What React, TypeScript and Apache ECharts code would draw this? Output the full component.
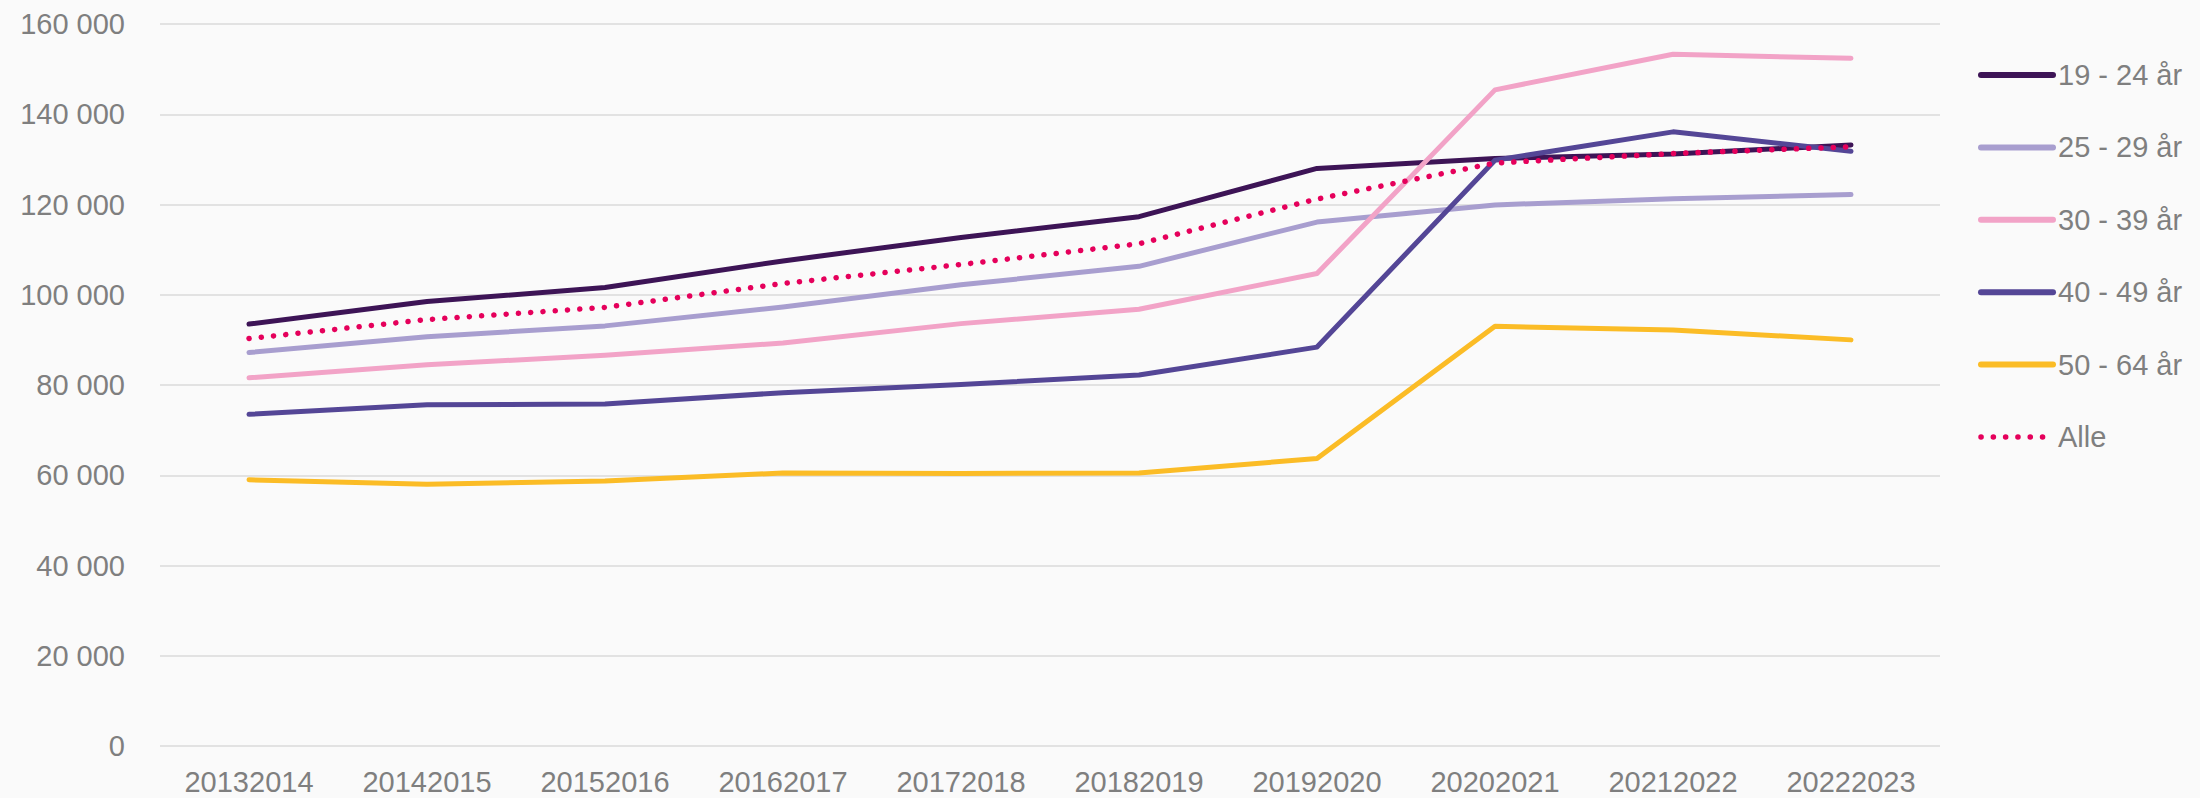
import React, { useEffect, useRef } from "react";
import * as echarts from "echarts";

const categories = [
  "20132014", "20142015", "20152016", "20162017", "20172018",
  "20182019", "20192020", "20202021", "20212022", "20222023",
];

const seriesNames = ["19 - 24 år", "25 - 29 år", "30 - 39 år", "40 - 49 år", "50 - 64 år", "Alle"];

const age1924 = [93500, 98500, 101600, 107500, 112700, 117300, 128000, 130200, 131200, 133200];
const age2529 = [87200, 90700, 93100, 97300, 102200, 106300, 116100, 119900, 121300, 122200];
const age3039 = [81600, 84500, 86600, 89300, 93600, 96800, 104700, 145400, 153300, 152400];
const age4049 = [73500, 75600, 75800, 78300, 80100, 82200, 88400, 129800, 136100, 131800];
const age5064 = [59000, 58000, 58700, 60500, 60400, 60500, 63700, 93000, 92200, 90000];
const alle = [90300, 94500, 97200, 102500, 106700, 111300, 121200, 129200, 131300, 132800];

const yTicks = { min: 0, max: 160000, interval: 20000 };

const colors = ["#3d1456", "#a89ecf", "#f2a3c7", "#544696", "#fbbc26", "#e5005b"];

const FONT = "'Liberation Sans', Arial, sans-serif";
const GRAY = "#7f7f7f";

export default function App() {
  const ref = useRef<HTMLDivElement>(null);

  useEffect(() => {
    if (!ref.current) return;
    const chart = echarts.init(ref.current, undefined, { renderer: "svg" });
    const dataSets = [age1924, age2529, age3039, age4049, age5064, alle];
    const dotted = [0.1, 12.2];

    const series = dataSets.map((d, i) => ({
      name: seriesNames[i],
      type: "line",
      data: d,
      symbol: "none",
      showSymbol: false,
      color: colors[i],
      lineStyle:
        i === 5
          ? { color: colors[i], width: 5.5, type: dotted, cap: "round" }
          : { color: colors[i], width: 5, cap: "round", join: "round" },
      z: 2 + i,
    }));

    chart.setOption({
      animation: false,
      backgroundColor: "#fafafa",
      textStyle: { fontFamily: FONT },
      grid: { left: 160, right: 260, top: 24, bottom: 52, containLabel: false },
      legend: {
        orient: "vertical",
        left: 1973,
        top: 55,
        itemWidth: 72,
        itemHeight: 14,
        itemGap: 42.4,
        itemStyle: { opacity: 0 },
        textStyle: { color: GRAY, fontSize: 29, fontFamily: FONT, lineHeight: 30 },
        data: seriesNames.map((n, i) => ({
          name: n,
          itemStyle: { opacity: 0 },
          lineStyle:
            i === 5
              ? { color: colors[i], width: 5.5, type: dotted, cap: "round" }
              : { color: colors[i], width: 6, type: "solid", cap: "round" },
        })),
      },
      xAxis: {
        type: "category",
        data: categories,
        boundaryGap: true,
        axisLine: { show: false },
        axisTick: { show: false },
        axisLabel: { color: GRAY, fontSize: 29, fontFamily: FONT, margin: 21 },
        splitLine: { show: false },
      },
      yAxis: {
        type: "value",
        min: yTicks.min,
        max: yTicks.max,
        interval: yTicks.interval,
        axisLine: { show: false },
        axisTick: { show: false },
        axisLabel: {
          color: GRAY,
          fontSize: 29,
          fontFamily: FONT,
          margin: 35,
          formatter: (v: number) => String(v).replace(/\B(?=(\d{3})+(?!\d))/g, " "),
        },
        splitLine: { lineStyle: { color: "#e2e2e2", width: 2 } },
      },
      series,
    });
    return () => chart.dispose();
  }, []);

  return (
    <div
      ref={ref}
      style={{ position: "absolute", left: 0, top: 0, width: 2200, height: 798, background: "#fafafa" }}
    />
  );
}
